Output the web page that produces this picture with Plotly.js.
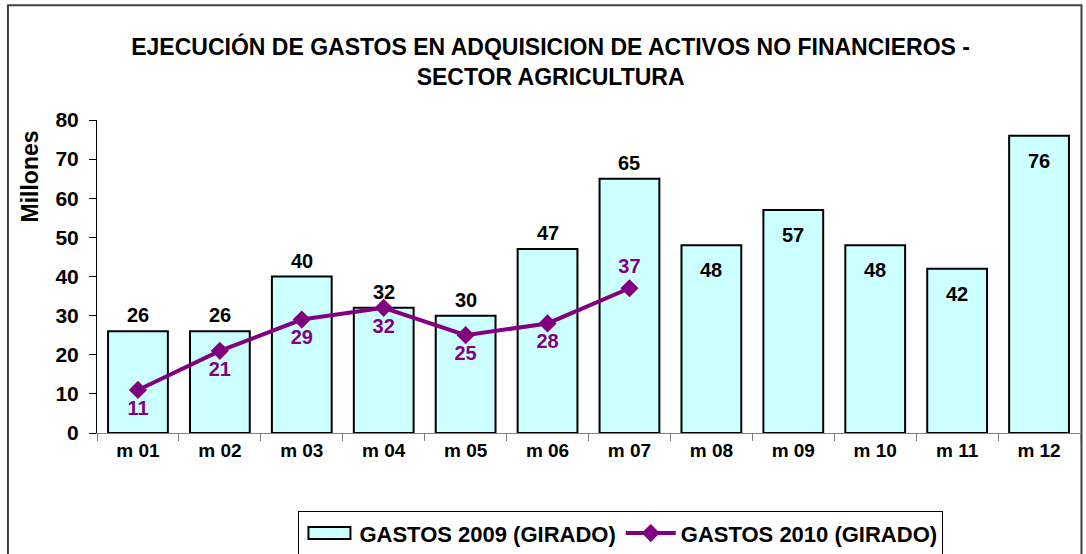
<!DOCTYPE html>
<html>
<head>
<meta charset="utf-8">
<script src="https://cdn.plot.ly/plotly-3.0.1.min.js"></script>
<style>
  html, body { margin: 0; padding: 0; background: #ffffff; }
  #chart { width: 1086px; height: 554px; }
</style>
</head>
<body>
<div id="chart"></div>
<script>
// Monthly expenditure, millions
const months = ['m 01', 'm 02', 'm 03', 'm 04', 'm 05', 'm 06', 'm 07', 'm 08', 'm 09', 'm 10', 'm 11', 'm 12'];
const gastos2009 = [26, 26, 40, 32, 30, 47, 65, 48, 57, 48, 42, 76];
const months2010 = ['m 01', 'm 02', 'm 03', 'm 04', 'm 05', 'm 06', 'm 07'];
const gastos2010 = [11, 21, 29, 32, 25, 28, 37];

const FONT = 'Liberation Sans, Arial, sans-serif';
const PURPLE = '#800080';

const bars = {
  type: 'bar',
  name: 'GASTOS 2009 (GIRADO)',
  x: months,
  y: gastos2009,
  marker: { color: '#CCFFFF', line: { color: '#000000', width: 2 } },
  hoverinfo: 'x+y'
};

const line = {
  type: 'scatter',
  mode: 'lines+markers+text',
  name: 'GASTOS 2010 (GIRADO)',
  x: months2010,
  y: gastos2010,
  text: gastos2010.map(String),
  textposition: gastos2010.map((v, i) => i === gastos2010.length - 1 ? 'top center' : 'bottom center'),
  textfont: { family: FONT, size: 20, color: PURPLE, weight: 'bold' },
  line: { color: PURPLE, width: 4 },
  marker: { symbol: 'diamond', size: 14, color: PURPLE },
  cliponaxis: false
};

// Bar value labels: the first months sit above the bar, the later ones inside its top
const barLabels = gastos2009.map((v, i) => {
  const inside = i >= 7;
  return {
    x: months[i], y: v, xref: 'x', yref: 'y',
    text: String(v), showarrow: false,
    yanchor: inside ? 'top' : 'bottom',
    yshift: inside ? -12 : 3,
    font: { family: FONT, size: 20, color: '#000000', weight: 'bold' }
  };
});

const layout = {
  width: 1086,
  height: 554,
  margin: { l: 97, r: 6, t: 120, b: 121, autoexpand: false },
  paper_bgcolor: '#ffffff',
  plot_bgcolor: '#ffffff',
  font: { family: FONT, size: 18, color: '#000000', weight: 'bold' },
  title: {
    text: 'EJECUCIÓN DE GASTOS EN ADQUISICION DE ACTIVOS NO FINANCIEROS -<br>SECTOR AGRICULTURA',
    font: { family: FONT, size: 23, color: '#000000', weight: 'bold' },
    x: 0.507, xanchor: 'center',
    y: 0.9, yanchor: 'middle'
  },
  bargap: 0.27,
  showlegend: true,
  legend: {
    orientation: 'h',
    x: 0.533, xanchor: 'center',
    y: -0.25, yanchor: 'top',
    bgcolor: '#ffffff',
    bordercolor: '#000000',
    borderwidth: 1,
    font: { family: FONT, size: 22, color: '#000000', weight: 'bold' },
    itemwidth: 50
  },
  xaxis: {
    type: 'category',
    tickson: 'boundaries',
    ticks: 'outside',
    ticklen: 7,
    tickcolor: '#808080',
    showline: true,
    linecolor: '#808080',
    linewidth: 1,
    showgrid: false,
    zeroline: false,
    tickfont: { family: FONT, size: 19, color: '#000000', weight: 'bold' },
    range: [-0.5, 11.5],
    fixedrange: true
  },
  yaxis: {
    range: [0, 80],
    dtick: 10,
    ticks: 'outside',
    ticklen: 7,
    tickcolor: '#000000',
    showline: true,
    linecolor: '#000000',
    linewidth: 1,
    showgrid: false,
    zeroline: false,
    ticklabelstandoff: 6,
    tickfont: { family: FONT, size: 21, color: '#000000', weight: 'bold' },
    fixedrange: true
  },
  annotations: [
    {
      text: 'Millones', xref: 'paper', yref: 'paper',
      x: -0.068, y: 0.82, xanchor: 'center', yanchor: 'middle',
      textangle: -90, showarrow: false,
      font: { family: FONT, size: 23, color: '#000000', weight: 'bold' }
    }
  ].concat(barLabels),
  shapes: [
    {
      type: 'rect', xref: 'paper', yref: 'paper',
      x0: -0.0906, x1: 1.0015, y0: -0.6, y1: 1.367,
      line: { color: '#404040', width: 2 },
      fillcolor: 'rgba(0,0,0,0)', layer: 'below'
    }
  ]
};

Plotly.newPlot('chart', [bars, line], layout, { displayModeBar: false, staticPlot: true }).then(gd => {
  // Wide rectangle key for the bar series, longer key line for the line series
  const items = gd.querySelectorAll('.legend .traces');
  items.forEach(item => {
    const lp = item.querySelector('.legendpoints');
    if (!lp) return;
    lp.querySelectorAll('path').forEach(p => {
      if (p.classList.contains('legendundefined') || (p.parentNode && p.parentNode.classList && p.parentNode.classList.contains('legendbar'))) {
        p.setAttribute('d', 'M21,6H-21V-6H21Z');
      }
    });
    const ln = lp.querySelector('.legendlines path');
    if (ln) ln.setAttribute('d', 'M-25,0h50');
  });
});
</script>
</body>
</html>
